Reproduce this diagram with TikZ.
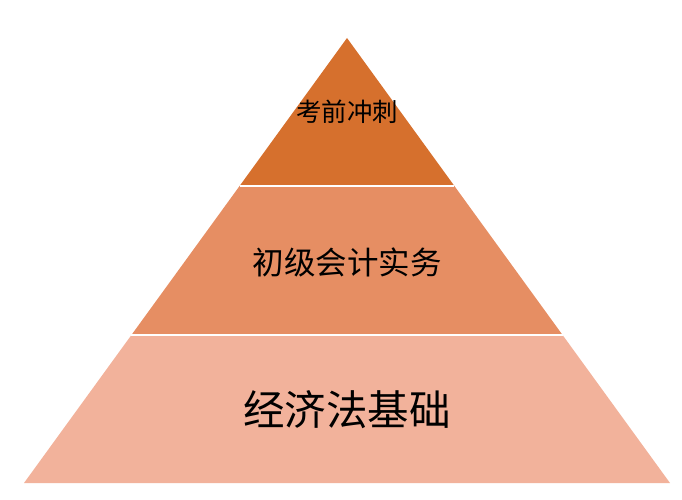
\documentclass[tikz,border=0pt]{standalone}
\usepackage{fontspec}
\newfontfamily\cjk{Noto Sans CJK SC}
\usetikzlibrary{calc,positioning}
\definecolor{toplayer}{RGB}{214,112,45}
\definecolor{midlayer}{RGB}{230,142,99}
\definecolor{baselayer}{RGB}{242,178,155}
\tikzset{
	sep/.style = {draw=white, line width=2pt},
	lab/.style = {text=black, inner sep=0pt}
}
\begin{document}
\begin{tikzpicture}[x=1pt,y=-1pt]
    \useasboundingbox (0,0) rectangle (682,500);
    \coordinate (apex) at (347,38);
    \coordinate (bl) at (24,483);
    \coordinate (br) at (670,483);
    \coordinate (l1) at ($(apex)!0.3326!(bl)$);
    \coordinate (r1) at ($(apex)!0.3326!(br)$);
    \coordinate (l2) at ($(apex)!0.6685!(bl)$);
    \coordinate (r2) at ($(apex)!0.6685!(br)$);

    \fill[baselayer] (l2) -- (r2) -- (br) -- (bl) -- cycle;
    \fill[midlayer] (l1) -- (r1) -- (r2) -- (l2) -- cycle;
    \fill[toplayer] (apex) -- (r1) -- (l1) -- cycle;
    \draw[sep] (l1) -- (r1);
    \draw[sep] (l2) -- (r2);

    \node[lab, font=\cjk\fontsize{25.5}{30}\selectfont] (top) at (347,112) {考前冲刺};
    \node[lab, font=\cjk\fontsize{31.5}{37}\selectfont] (mid) at (347,262) {初级会计实务};
    \node[lab, font=\cjk\fontsize{41.5}{48}\selectfont] (base) at (347,410) {经济法基础};
\end{tikzpicture}
\end{document}
